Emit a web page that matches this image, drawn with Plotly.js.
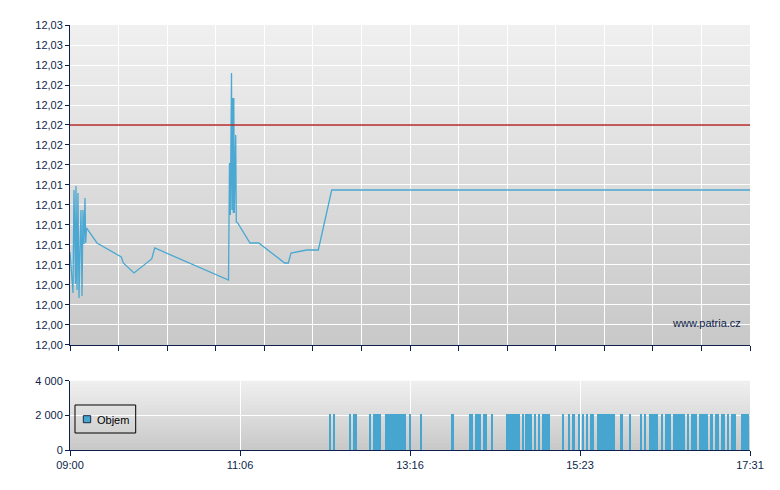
<!DOCTYPE html>
<html>
<head>
<meta charset="utf-8">
<script src="https://cdn.plot.ly/plotly-3.0.1.min.js"></script>
<style>html,body{margin:0;padding:0;background:#fff}#chart{width:780px;height:490px}</style>
</head>
<body>
<div id="chart"></div>
<script>
// ---- data ----
const sessionStart = '09:00:00';
const sessionEnd = '17:31:00';
const priceTimes = ['09:00:00','09:02:15','09:03:00','09:04:08','09:04:30','09:05:16','09:06:00','09:06:46','09:07:30','09:08:16',
  '09:09:01','09:09:46','09:10:31','09:11:16','09:11:48','09:12:24','09:20:17','09:38:33','09:40:03','09:48:06',
  '10:01:24','10:03:39','10:59:07','10:59:52','11:00:28','11:01:22','11:01:44','11:02:16','11:02:44','11:03:06',
  '11:03:28','11:04:31','11:04:58','11:06:02','11:15:16','11:21:48','11:41:21','11:44:03','11:46:05','11:57:53',
  '12:06:36','12:16:40','17:31:00'];
const prices = [12.0073,12.0032,12.0135,12.0041,12.0139,12.0035,12.0132,12.0027,12.0075,12.0115,
  12.0029,12.0115,12.0081,12.0127,12.0082,12.0097,12.0082,12.0068,12.0062,12.0052,
  12.0066,12.0077,12.0045,12.0162,12.0110,12.0252,12.0115,12.0227,12.0112,12.0227,
  12.0112,12.0190,12.0103,12.0102,12.0082,12.0082,12.0062,12.0062,12.0072,12.0075,
  12.0075,12.0135,12.0135];
const referencePrice = 12.02;
const volumeTimes = ['12:15','12:18','12:30','12:33','12:34','12:45','12:48','12:49','12:51','12:52',
  '12:57','12:58','13:00','13:01','13:03','13:04','13:05','13:06','13:07','13:08','13:09','13:10','13:11',
  '13:15','13:23','13:46','13:47','14:00','14:01','14:04','14:05','14:06','14:07','14:10','14:11','14:12',
  '14:16','14:28','14:29','14:30','14:31','14:32','14:33','14:34','14:35','14:36','14:37','14:40',
  '14:42','14:43','14:44','14:45','14:46','14:49','14:52','14:55','14:56','14:57','14:58','14:59',
  '15:10','15:14','15:17','15:18','15:22','15:25','15:28','15:31','15:32',
  '15:36','15:37','15:38','15:39','15:40','15:41','15:42','15:43','15:44','15:45','15:46','15:47','15:48',
  '15:53','15:54','16:00','16:08','16:11','16:15','16:16','16:17','16:18','16:19','16:20','16:24',
  '16:27','16:28','16:29','16:30','16:33','16:35','16:36','16:37','16:38','16:39','16:41','16:44',
  '16:47','16:48','16:49','16:50','16:53','16:54','16:55','16:56','16:57','16:58','17:01','17:02',
  '17:05','17:06','17:09','17:10','17:11','17:14','17:17','17:18','17:19',
  '17:24','17:25','17:26','17:27','17:28','17:29'];
const volumes = [2100,2100,2100,2100,2100,2100,2100,2100,2100,2100,
  2100,2100,2100,2100,2100,2100,2100,2100,2100,2100,2100,2100,2100,
  2100,2100,2100,2100,2100,2100,2100,2100,2100,2100,2100,2100,2100,
  2100,2100,2100,2100,2100,2100,2100,2100,2100,2100,2100,2100,
  2100,2100,2100,2100,2100,2100,2100,2100,2100,2100,2100,2100,
  2100,2100,2100,2100,2100,2100,2100,2100,2100,
  2100,2100,2100,2100,2100,2100,2100,2100,2100,2100,2100,2100,2100,
  2100,2100,2100,2100,2100,2100,2100,2100,2100,2100,2100,2100,
  2100,2100,2100,2100,2100,2100,2100,2100,2100,2100,2100,2100,
  2100,2100,2100,2100,2100,2100,2100,2100,2100,2100,2100,2100,
  2100,2100,2100,2100,2100,2100,2100,2100,2100,
  2100,2100,2100,2100,2100,2100];
const bottomTickLabels = ['09:00','11:06','13:16','15:23','17:31'];
const volumeName = 'Objem';
const watermark = 'www.patria.cz';

// ---- helpers ----
function toMs(t){ const p = t.split(':').map(Number); return Date.UTC(2024,0,1,p[0],p[1],p[2]||0); }
function mix(a, b, f){ return Math.round(a + (b - a) * f); }
function bands(xr, yr, n, top, bottom){
  const out = [];
  for (let i = 0; i < n; i++){
    const f = (i + 0.5) / n;
    const c = mix(top, bottom, f);
    out.push({type:'rect', xref:xr, yref:yr, x0:0, x1:1, y0:Math.max(0, 1 - (i + 2) / n), y1:1 - i / n,
      fillcolor:'rgb(' + c + ',' + c + ',' + c + ')', line:{width:0}, layer:'below'});
  }
  return out;
}
const navy = '#0d1f4a';
const fontFam = 'Liberation Sans, Arial, sans-serif';
const startMs = toMs(sessionStart), endMs = toMs(sessionEnd);
const bottomTicks = bottomTickLabels.map((_, i) => startMs + i * (endMs - startMs) / (bottomTickLabels.length - 1));

const traces = [
  { type:'scatter', mode:'lines', x: priceTimes.map(toMs), y: prices, xaxis:'x', yaxis:'y',
    line:{color:'#4aa8d2', width:1.3}, showlegend:false },
  { type:'bar', name: volumeName, x: volumeTimes.map(toMs), y: volumes, xaxis:'x2', yaxis:'y2',
    width: 90000, offset: 0, marker:{color:'#47a6cf', line:{width:0}}, showlegend:false }
];

const axisFont = {family:fontFam, size:11, color:navy};
const shapes = [].concat(
  bands('x domain', 'y domain', 64, 240, 200),
  bands('x2 domain', 'y2 domain', 20, 240, 200),
  [
    {type:'line', xref:'x domain', yref:'y', x0:0, x1:1, y0:referencePrice, y1:referencePrice, line:{color:'#b42828', width:1.5}, layer:'above'},
    // legend box
    {type:'rect', xref:'paper', yref:'paper', x0:0.00735, x1:0.0966, y0:0.04, y1:0.1059, line:{color:'#000000', width:1}, fillcolor:'rgba(0,0,0,0)', layer:'above'},
    {type:'rect', xref:'paper', yref:'paper', x0:0.0196, x1:0.0304, y0:0.0642, y1:0.0807, line:{color:'#1a2a40', width:1}, fillcolor:'#47a6cf', layer:'above'}
  ]
);

const layout = {
  width:780, height:490,
  margin:{l:70, r:30, t:25, b:40},
  paper_bgcolor:'#ffffff', plot_bgcolor:'rgba(0,0,0,0)',
  separators:', ',
  font: axisFont,
  bargap:0,
  xaxis:{ type:'date', domain:[0,1], anchor:'y', range:[startMs, endMs], tickmode:'linear', tick0:startMs,
    dtick:(endMs-startMs)/14, showticklabels:false, ticks:'outside', ticklen:5, tickcolor:navy,
    showgrid:true, gridcolor:'#ffffff', gridwidth:1, showline:true, linecolor:navy, linewidth:1, zeroline:false },
  yaxis:{ domain:[0.2471,1], anchor:'x', range:[11.998, 12.030], tickmode:'linear', tick0:11.998, dtick:0.002,
    tickformat:'.2f', ticks:'outside', ticklen:4, tickcolor:navy, showgrid:true, gridcolor:'#ffffff', gridwidth:1,
    showline:true, linecolor:navy, linewidth:1, zeroline:false, tickfont:axisFont },
  xaxis2:{ type:'date', domain:[0,1], anchor:'y2', range:[startMs, endMs], tickmode:'array', tickvals:bottomTicks,
    ticktext:bottomTickLabels, ticks:'outside', ticklen:5, tickcolor:navy, showgrid:true, gridcolor:'#ffffff', gridwidth:1,
    showline:true, linecolor:navy, linewidth:1, zeroline:false, tickfont:axisFont },
  yaxis2:{ domain:[0,0.1631], anchor:'x2', range:[0,4000], tickmode:'linear', tick0:0, dtick:2000, tickformat:',d',
    ticks:'outside', ticklen:4, tickcolor:navy, showgrid:true, gridcolor:'#ffffff', gridwidth:1,
    showline:true, linecolor:navy, linewidth:1, zeroline:false, tickfont:axisFont },
  shapes: shapes,
  annotations:[
    {text:watermark, xref:'paper', yref:'paper', x:0.9897, y:0.2988, xanchor:'right', yanchor:'middle', showarrow:false,
     font:{family:fontFam, size:11, color:navy}},
    {text:volumeName, xref:'paper', yref:'paper', x:0.0363, y:0.0706, xanchor:'left', yanchor:'middle', showarrow:false,
     font:{family:fontFam, size:11, color:'#000000'}}
  ],
  showlegend:false,
  hovermode:false
};
Plotly.newPlot('chart', traces, layout, {displayModeBar:false, staticPlot:true});
</script>
</body>
</html>
